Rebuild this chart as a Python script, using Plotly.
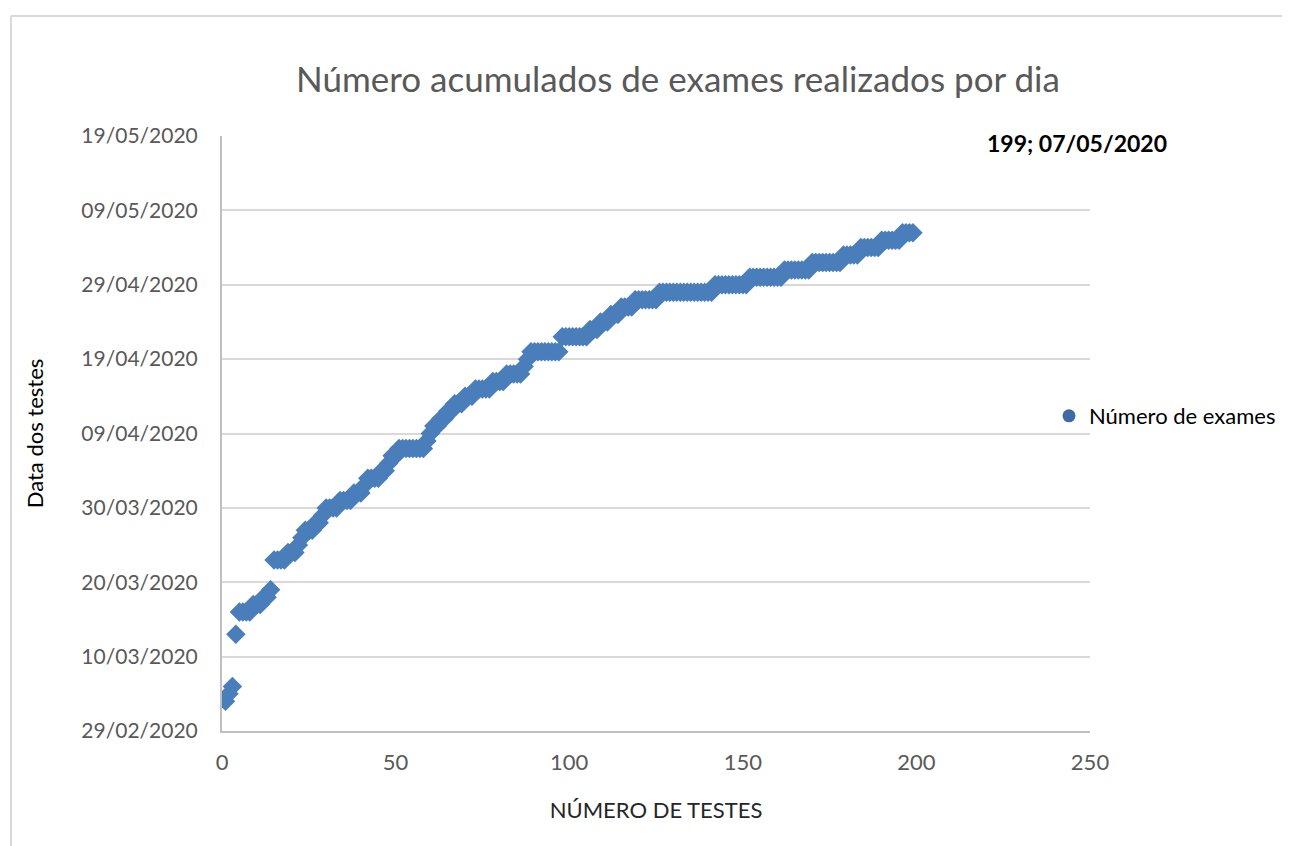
import plotly.graph_objects as go
from datetime import date, timedelta

# Runs of tests sharing the same date
run_dates = [
    "2020-03-04", "2020-03-05", "2020-03-06", "2020-03-13", "2020-03-16",
    "2020-03-17", "2020-03-18", "2020-03-19", "2020-03-23", "2020-03-24",
    "2020-03-25", "2020-03-26", "2020-03-27", "2020-03-28", "2020-03-29",
    "2020-03-30", "2020-03-31", "2020-04-01", "2020-04-02", "2020-04-03",
    "2020-04-04", "2020-04-05", "2020-04-06", "2020-04-07", "2020-04-08",
    "2020-04-09", "2020-04-10", "2020-04-11", "2020-04-12", "2020-04-13",
    "2020-04-14", "2020-04-15", "2020-04-16", "2020-04-17", "2020-04-18",
    "2020-04-19", "2020-04-20", "2020-04-22", "2020-04-23", "2020-04-24",
    "2020-04-25", "2020-04-26", "2020-04-27", "2020-04-28", "2020-04-29",
    "2020-04-30", "2020-05-01", "2020-05-02", "2020-05-03", "2020-05-04",
    "2020-05-05", "2020-05-06",
]
run_counts = [
    1, 1, 1, 1, 4,
    3, 2, 1, 4, 3,
    1, 1, 3, 2, 1,
    4, 4, 3, 1, 4,
    2, 1, 2, 8, 1,
    1, 2, 2, 2, 3,
    3, 5, 4, 5, 1,
    1, 9, 8, 3, 3,
    3, 4, 7, 16, 10,
    10, 8, 9, 5, 6,
    6, 4,
]

y_tick_labels = ["29/02/2020", "10/03/2020", "20/03/2020", "30/03/2020", "09/04/2020",
                 "19/04/2020", "29/04/2020", "09/05/2020", "19/05/2020"]
x_ticks = [0, 50, 100, 150, 200, 250]

test_dates = []
for d, c in zip(run_dates, run_counts):
    test_dates += [d] * c
test_numbers = list(range(1, len(test_dates) + 1))

start = date(2020, 2, 29)
tick_vals = [(start + timedelta(days=10 * i)).isoformat() for i in range(len(y_tick_labels))]

FONT = "Lato"
BLUE = "#4A7EBB"

fig = go.Figure()
fig.add_trace(go.Scatter(
    x=test_numbers, y=test_dates, mode="markers",
    marker=dict(symbol="diamond", size=15, color=BLUE, line=dict(width=0)),
    name="Número de exames", showlegend=False,
))
# legend entry (Excel shows a round marker in the legend)
fig.add_trace(go.Scatter(
    x=[None], y=[None], mode="markers",
    marker=dict(symbol="circle", size=13, color="#3F6AA5"),
    name="Número de exames", showlegend=True,
))

OFF = 8  # page offset of the figure (body margin)
W, H = 1282, 838
L, T = 222 - OFF, 136 - OFF
pw, ph = 868, 595
R, B = W - L - pw, H - T - ph


def px_to_paper_x(px):
    return (px - OFF - L) / pw


def px_to_paper_y(py):
    return 1 - (py - OFF - T) / ph


fig.update_layout(
    width=W, height=H,
    margin=dict(l=L, r=R, t=T, b=B, pad=0, autoexpand=False),
    paper_bgcolor="white", plot_bgcolor="white",
    font=dict(family=FONT, color="#595959", size=22),
    title=dict(text="Número acumulados de exames realizados por dia",
               x=px_to_paper_x(678), xref="paper", xanchor="center",
               y=1 - (80 - OFF) / H, yanchor="middle",
               font=dict(family=FONT, size=35, color="#595959")),
    xaxis=dict(range=[0, 250], tickvals=x_ticks, ticktext=[str(v) for v in x_ticks],
               showgrid=False, zeroline=False, showline=True, linecolor="#BFBFBF", linewidth=2,
               ticks="", ticklabelstandoff=11, automargin=False,
               tickfont=dict(family=FONT, size=22, color="#595959"),
               title=dict(text="NÚMERO DE TESTES", standoff=28,
                          font=dict(family=FONT, size=22, color="#262626"))),
    yaxis=dict(type="date", range=[tick_vals[0], tick_vals[-1]],
               tickvals=tick_vals, ticktext=y_tick_labels,
               showgrid=True, gridcolor="#D9D9D9", gridwidth=2,
               zeroline=False, showline=True, linecolor="#BFBFBF", linewidth=2,
               ticks="", ticklabelstandoff=18, automargin=False,
               tickfont=dict(family=FONT, size=21, color="#595959"),
               title=dict(text="Data dos testes", standoff=32,
                          font=dict(family=FONT, size=22, color="#000000"))),
    legend=dict(x=px_to_paper_x(1049), y=px_to_paper_y(416), xanchor="left", yanchor="middle",
                font=dict(family=FONT, size=22, color="#000000"), bgcolor="rgba(0,0,0,0)",
                itemwidth=30),
    annotations=[dict(
        text="<b>199; 07/05/2020</b>", xref="paper", yref="paper",
        x=px_to_paper_x(1077), y=px_to_paper_y(143), xanchor="center", yanchor="middle",
        showarrow=False, font=dict(family=FONT, size=23, color="#000000"))],
    shapes=[
        dict(type="line", xref="paper", yref="paper",
             x0=px_to_paper_x(11), x1=px_to_paper_x(1300), y0=px_to_paper_y(16), y1=px_to_paper_y(16),
             line=dict(color="#D9D9D9", width=2)),
        dict(type="line", xref="paper", yref="paper",
             x0=px_to_paper_x(11), x1=px_to_paper_x(11), y0=px_to_paper_y(16), y1=px_to_paper_y(860),
             line=dict(color="#D9D9D9", width=2)),
    ],
)

fig.write_html("out.html")
